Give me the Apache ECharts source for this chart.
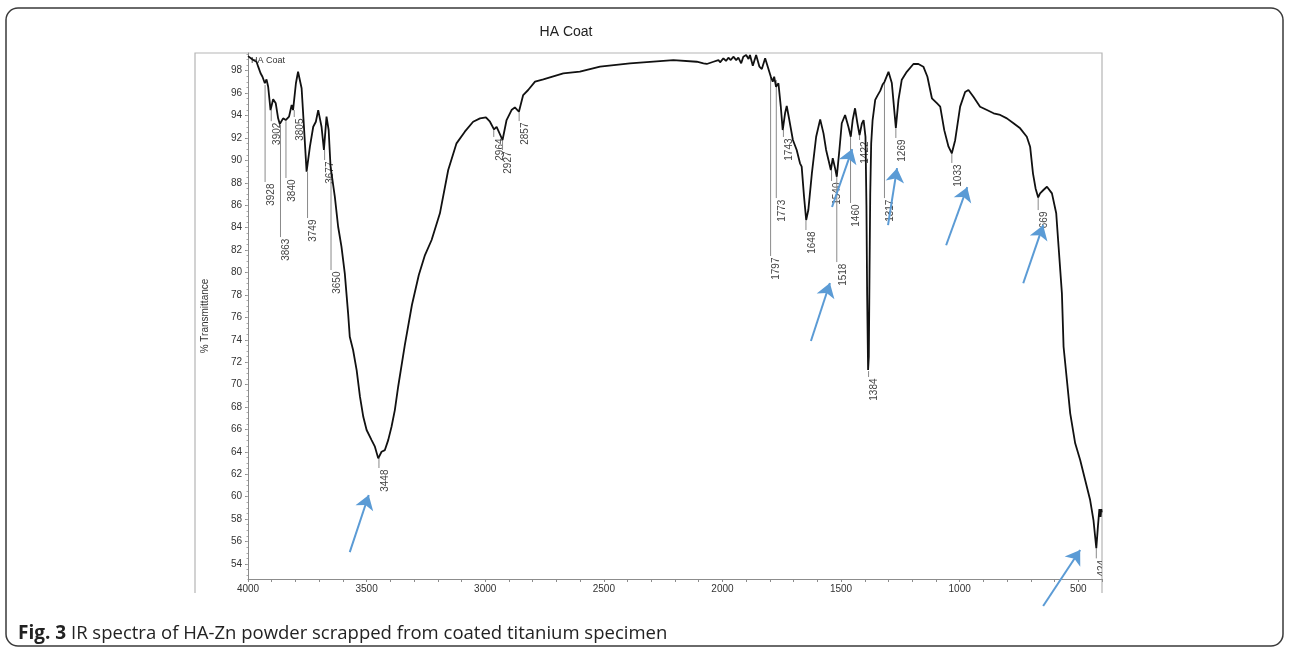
<!DOCTYPE html>
<html>
<head>
<meta charset="utf-8">
<title>HA Coat</title>
<script src="https://cdn.jsdelivr.net/npm/echarts@6/dist/echarts.min.js"></script>
<style>
    html, body { margin: 0; padding: 0; background: #fff; }
    #chart { width: 1290px; height: 653px; }
</style>
</head>
<body>
<div id="chart"></div>
<script>
// spectrum (wavenumber cm-1 / % transmittance)
var waveNum = [4000, 3978, 3964, 3957, 3947, 3939, 3929, 3922, 3915, 3905, 3894, 3883, 3873, 3866, 3852, 3841, 3827, 3816, 3810, 3798,
    3789, 3774, 3765, 3753, 3739, 3725, 3714, 3704, 3690, 3680, 3669, 3660, 3652, 3644, 3634, 3620, 3606, 3592, 3585, 3578,
    3571, 3557, 3542, 3528, 3514, 3500, 3479, 3465, 3451, 3437, 3423, 3409, 3395, 3381, 3367, 3339, 3309, 3280, 3254, 3226,
    3191, 3156, 3121, 3086, 3051, 3022, 2997, 2980, 2963, 2952, 2927, 2910, 2889, 2875, 2858, 2840, 2819, 2790, 2755, 2671,
    2601, 2516, 2390, 2207, 2108, 2080, 2066, 2038, 2017, 2010, 1996, 1985, 1975, 1965, 1954, 1942, 1933, 1921, 1912, 1900,
    1890, 1884, 1872, 1858, 1844, 1834, 1820, 1813, 1796, 1788, 1782, 1774, 1764, 1754, 1746, 1736, 1729, 1718, 1703, 1687,
    1673, 1666, 1656, 1647, 1638, 1623, 1605, 1588, 1574, 1563, 1553, 1543, 1535, 1525, 1518, 1507, 1497, 1483, 1469, 1459,
    1451, 1441, 1431, 1422, 1412, 1405, 1397, 1393, 1390, 1386, 1383, 1380, 1377, 1373, 1367, 1356, 1346, 1335, 1324, 1317,
    1300, 1286, 1269, 1258, 1244, 1223, 1195, 1174, 1153, 1136, 1117, 1096, 1082, 1065, 1047, 1033, 1019, 998, 977, 963,
    942, 914, 885, 857, 829, 801, 773, 745, 717, 703, 691, 680, 669, 661, 647, 632, 611, 593, 583, 569,
    562, 548, 534, 513, 492, 471, 450, 436, 424, 417, 411, 406, 403, 401];
var transmit = [99.3, 98.96, 98.8, 98.36, 97.77, 97.46, 96.88, 97.23, 96.57, 94.49, 95.45, 95.09, 93.75, 93.25, 93.75, 93.6, 93.9, 94.94, 94.49, 96.88,
    97.91, 96.43, 93.31, 88.99, 91.22, 93.0, 93.45, 94.49, 93.0, 90.93, 93.9, 92.71, 89.44, 89.59, 86.76, 84.08, 82.3, 79.93, 78.14, 76.36,
    74.27, 73.09, 71.3, 68.92, 67.13, 65.95, 65.05, 64.46, 63.42, 64.01, 64.16, 65.05, 66.24, 67.73, 69.81, 73.53, 77.1, 79.78, 81.56, 82.9,
    85.28, 89.14, 91.52, 92.56, 93.45, 93.75, 93.84, 93.45, 92.77, 93.0, 91.82, 93.6, 94.49, 94.73, 94.34, 95.83, 96.28, 97.02, 97.23, 97.77,
    97.91, 98.36, 98.66, 98.95, 98.8, 98.66, 98.6, 98.8, 98.95, 98.75, 99.11, 98.87, 99.16, 98.95, 99.25, 98.95, 99.16, 98.66, 99.25, 99.4,
    99.04, 99.4, 98.45, 99.4, 98.36, 98.15, 99.11, 99.1, 97.46, 97.02, 97.46, 96.57, 96.88, 94.79, 92.71, 94.2, 94.85, 93.6, 91.82, 90.93,
    89.74, 89.44, 86.76, 84.68, 85.57, 88.85, 92.11, 93.66, 92.41, 90.93, 90.03, 89.14, 90.19, 89.29, 88.54, 90.93, 93.31, 94.05, 93.0, 92.11,
    93.6, 94.65, 93.31, 92.26, 93.31, 93.6, 92.11, 86.0, 78.0, 71.3, 72.5, 80.0, 87.0, 91.5, 93.6, 95.4, 95.8, 96.2, 96.8, 97.0,
    97.9, 96.9, 92.9, 95.4, 97.2, 97.9, 98.6, 98.6, 98.36, 97.46, 95.54, 95.1, 94.8, 92.7, 91.22, 90.63, 91.8, 94.8, 96.1, 96.28,
    95.68, 94.79, 94.49, 94.2, 94.05, 93.75, 93.31, 92.86, 92.11, 91.22, 88.85, 87.5, 86.7, 87.06, 87.36, 87.65, 87.06, 85.28, 82.3, 78.14,
    73.38, 70.41, 67.44, 64.76, 63.27, 61.49, 59.7, 57.92, 55.4, 57.4, 58.9, 58.2, 58.9, 58.6];

// peak markers: wavenumber, where the leader starts and ends (% T)
var peakWave = [3928, 3902, 3863, 3840, 3805, 3749, 3677, 3650, 3448, 2964, 2927, 2857, 1797, 1773, 1743, 1648, 1540, 1518, 1460, 1422, 1384, 1317, 1269, 1033, 669, 424];
var peakTop = [96.72, 94.49, 93.16, 93.5, 94.49, 88.96, 90.93, 89.41, 63.45, 92.8, 91.82, 94.31, 97.62, 97.17, 92.71, 84.68, 89.14, 88.52, 92.09, 92.26, 71.21, 96.9, 92.89, 90.66, 86.73, 55.41];
var peakEnd = [88.07, 93.5, 83.16, 88.43, 93.87, 84.86, 90.03, 80.22, 62.56, 92.09, 90.93, 93.51, 81.47, 86.64, 92.09, 83.79, 88.16, 80.93, 86.2, 91.82, 70.68, 86.64, 92.0, 89.77, 85.57, 54.5];

// blue arrows drawn on the figure: tail and tip
var arrowFrom = [[3571, 55.06], [1627, 73.89], [1538, 85.84], [1302, 84.22], [1057, 82.43], [732, 79.04], [648, 50.25]];
var arrowTo = [[3491, 60.15], [1547, 79.06], [1453, 91.01], [1264, 89.31], [968, 87.61], [648, 84.22], [492, 55.25]];

var xLabels = [4000, 3500, 3000, 2500, 2000, 1500, 1000, 500];
var yLabels = [54, 56, 58, 60, 62, 64, 66, 68, 70, 72, 74, 76, 78, 80, 82, 84, 86, 88, 90, 92, 94, 96, 98];

var spectrum = waveNum.map(function (w, i) { return [w, transmit[i]]; });
var peaks = peakWave.map(function (w, i) { return [w, peakTop[i], peakEnd[i]]; });
var arrows = arrowFrom.map(function (f, i) { return { coords: [f, arrowTo[i]] }; });

var xMinor = [], yMinor = [];
for (var v = 400; v <= 4000; v += 100) xMinor.push(v);
for (var u = 53; u <= 99.5; u += 0.5) yMinor.push(u);

var axisGray = '#8c8c8c', textGray = '#333';
var font = 'Liberation Sans, Arial, sans-serif';

var chart = echarts.init(document.getElementById('chart'));
chart.setOption({
    animation: false,
    backgroundColor: '#fff',
    textStyle: { fontFamily: font },
    grid: { left: 248, right: 188, top: 53, bottom: 74, outerBoundsMode: 'none' },
    xAxis: {
        type: 'value', inverse: true, min: 400, max: 4000,
        splitLine: { show: false },
        axisLine: { lineStyle: { color: axisGray, width: 1 } },
        axisTick: { customValues: xMinor, length: 3, lineStyle: { color: axisGray } },
        axisLabel: {
            customValues: xLabels, fontSize: 10, color: textGray, margin: 5,
            formatter: function (val) { return String(val); }
        }
    },
    yAxis: [{
        type: 'value', min: 52.66, max: 99.58,
        name: '% Transmittance', nameLocation: 'middle', nameGap: 38,
        nameTextStyle: { fontSize: 10, color: textGray },
        splitLine: { show: false },
        axisLine: { lineStyle: { color: axisGray, width: 1 } },
        axisTick: { customValues: yLabels, length: 3, lineStyle: { color: axisGray } },
        axisLabel: { customValues: yLabels, fontSize: 10, color: textGray, margin: 6 }
    }, {
        type: 'value', min: 52.66, max: 99.58, position: 'left',
        splitLine: { show: false },
        axisLine: { show: false },
        axisTick: { customValues: yMinor, length: 1.5, lineStyle: { color: '#aaa' } },
        axisLabel: { show: false }
    }],
    series: [{
        type: 'line',
        data: spectrum,
        showSymbol: false,
        lineStyle: { color: '#111', width: 1.8 },
        z: 3
    }, {
        type: 'custom',
        data: peaks,
        clip: true,
        encode: { x: 0, y: [1, 2] },
        renderItem: function (params, api) {
            var a = api.coord([api.value(0), api.value(1)]);
            var b = api.coord([api.value(0), api.value(2)]);
            return {
                type: 'group',
                children: [{
                    type: 'line',
                    shape: { x1: a[0], y1: a[1], x2: b[0], y2: b[1] },
                    style: { stroke: '#8a8a8a', lineWidth: 1 }
                }, {
                    type: 'text',
                    x: b[0] + 1, y: b[1] + 1.5,
                    rotation: Math.PI / 2,
                    style: {
                        text: String(api.value(0)),
                        align: 'right', verticalAlign: 'top',
                        fill: '#444', fontSize: 10, fontFamily: font
                    }
                }]
            };
        },
        z: 2
    }, {
        type: 'lines',
        coordinateSystem: 'cartesian2d',
        clip: false,
        data: arrows,
        symbol: ['none', 'arrow'],
        symbolSize: 14,
        lineStyle: { color: '#5b9bd5', width: 2, opacity: 1, curveness: 0 },
        z: 4
    }],
    graphic: [{
        type: 'rect',
        shape: { x: 6, y: 8, width: 1277, height: 638, r: 12 },
        style: { fill: 'none', stroke: '#3a3a3a', lineWidth: 1.5 }
    }, {
        type: 'polyline',
        shape: { points: [[195, 593], [195, 53], [1102, 53], [1102, 593]] },
        style: { fill: 'none', stroke: '#b5b5b5', lineWidth: 1.2 }
    }, {
        type: 'text', x: 566, y: 32,
        style: { text: 'HA Coat', fontSize: 14, fill: '#222', align: 'center', verticalAlign: 'middle', fontFamily: font }
    }, {
        type: 'text', x: 251, y: 61,
        style: { text: 'HA Coat', fontSize: 9, fill: '#333', align: 'left', verticalAlign: 'middle', fontFamily: font }
    }, {
        type: 'text', x: 18, y: 634,
        style: {
            text: '{b|Fig. 3} IR spectra of HA-Zn powder scrapped from coated titanium specimen',
            fontSize: 18.5, fill: '#222', verticalAlign: 'middle', fontFamily: 'Open Sans, sans-serif',
            rich: { b: { fontWeight: 'bold', fontSize: 19, fill: '#222', fontFamily: 'Open Sans, sans-serif' } }
        }
    }]
});
</script>
</body>
</html>
